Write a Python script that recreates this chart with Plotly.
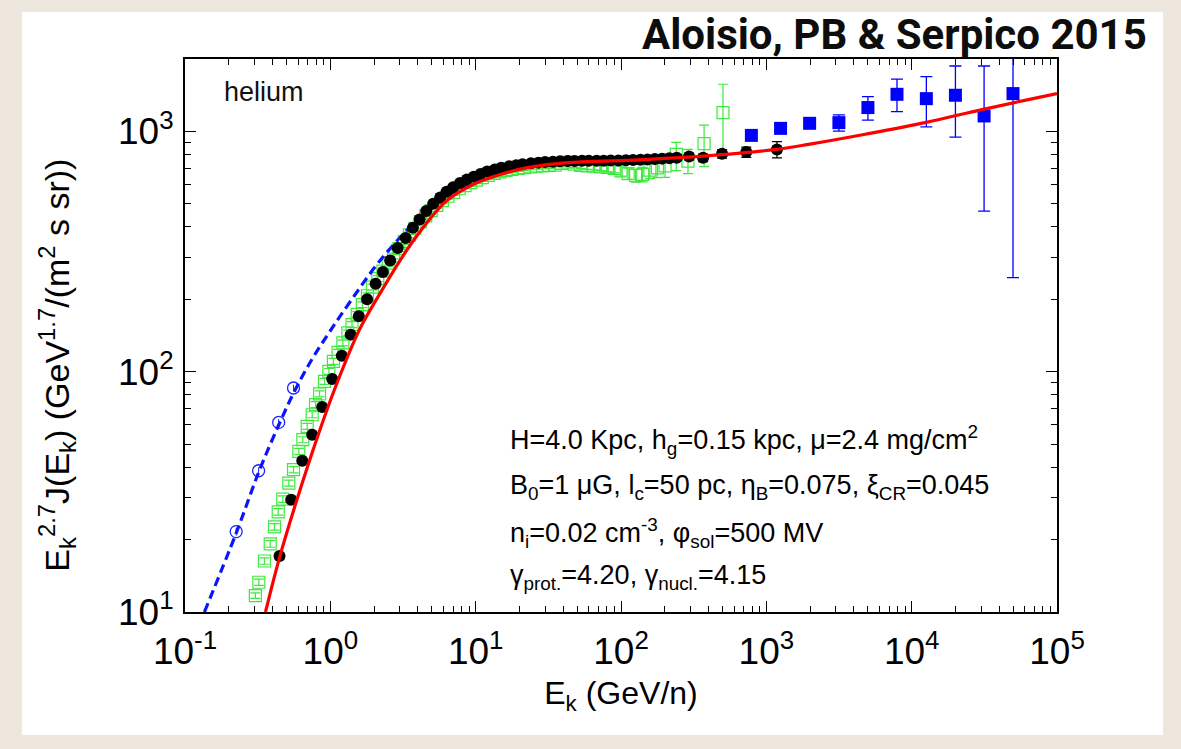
import plotly.graph_objects as go

# ---- model curves: E_k^2.7 J(E_k) for helium ----
model_E = [0.358, 0.449, 0.589, 0.820, 1.098, 1.59, 2.18, 3.70, 6.28, 9.57, 14.6, 20.0,
           32.3, 50.0, 100.0, 157.0, 365.0, 1170.0, 2000.0, 4900.0, 12600.0, 31000.0, 1.0e5]
model_J = [10.0, 17.0, 29.3, 54.0, 88.0, 150.0, 210.0, 349.0, 513.0, 601.0, 660.0, 695.0,
           729.0, 745.0, 755.0, 765.0, 789.0, 841.0, 885.0, 975.0, 1090.0, 1235.0, 1436.0]

modsol_E = [0.136, 0.225, 0.326, 0.447, 0.567, 0.75, 1.0, 1.43, 2.18, 3.70, 6.28, 10.6,
            20.0, 32.3, 50.0, 80.0]
modsol_J = [10.0, 21.3, 39.0, 61.0, 83.0, 113.0, 148.0, 203.0, 288.0, 410.0, 530.0, 631.0,
            710.0, 750.0, 755.0, 758.0]

# ---- AMS-02 style dense helium data (black dots) ----
ams_E = [0.447, 0.538, 0.641, 0.750, 0.879, 1.03, 1.20, 1.38, 1.57, 1.79, 2.05, 2.30, 2.58,
         2.91, 3.30, 3.70, 4.11, 4.57, 5.1, 5.7, 6.3, 7.0, 7.8, 8.7, 9.7, 10.8, 12.0, 13.5,
         15.0, 17.0, 19.0, 21.0, 24.0, 27.0, 30.0, 34.0, 38.0, 43.0, 48.0, 54.0, 60.0, 68.0,
         76.0, 85.0, 96.0, 108.0, 121.0, 136.0, 152.0, 171.0, 192.0, 215.0, 242.0, 294.0,
         367.0, 496.0, 728.0, 1183.0]
ams_J = [17.1, 29.3, 42.6, 54.7, 71.3, 93.3, 116.6, 142.6, 170.0, 200.0, 232.0, 260.0, 290.0,
         327.0, 360.0, 397.0, 430.0, 466.0, 500.0, 530.0, 560.0, 585.0, 610.0, 630.0, 648.0,
         665.0, 680.0, 693.0, 705.0, 715.0, 723.0, 730.0, 736.0, 741.0, 745.0, 748.0, 750.0,
         752.0, 753.0, 754.0, 754.0, 755.0, 755.0, 756.0, 757.0, 758.0, 760.0, 762.0, 764.0,
         767.0, 770.0, 773.0, 777.0, 785.0, 776.0, 807.0, 820.0, 841.0]
ams_err = [0.5, 0.6, 0.8, 1.0, 1.2, 1.5, 1.8, 2.0, 2.3, 2.6, 3.0, 3.3, 3.6, 4.0, 4.3, 4.7,
           5.0, 5.3, 5.6, 6.0, 6.3, 6.5, 6.8, 7.0, 7.2, 7.4, 7.6, 7.8, 8.0, 8.2, 8.4, 8.6,
           8.8, 9.0, 9.2, 9.4, 9.6, 9.8, 10.0, 10.5, 11.0, 11.5, 12.0, 12.5, 13.0, 13.5,
           14.0, 15.0, 16.0, 17.0, 18.0, 19.0, 21.0, 24.0, 28.0, 33.0, 40.0, 65.0]

# ---- PAMELA style helium data (green open squares) ----
pam_E = [0.305, 0.322, 0.352, 0.386, 0.413, 0.438, 0.471, 0.518, 0.558, 0.607, 0.647, 0.693,
         0.750, 0.791, 0.843, 0.912, 0.977, 1.05, 1.13, 1.22, 1.32, 1.41, 1.53, 1.66, 1.80,
         1.95, 2.12, 2.30, 2.50, 2.72, 2.96, 3.22, 3.50, 3.82, 4.16, 4.53, 4.94, 5.40, 5.90,
         6.45, 7.05, 7.70, 8.45, 9.25, 10.1, 11.1, 12.2, 13.4, 14.7, 16.2, 17.8, 19.6, 21.6,
         23.8, 26.2, 28.9, 31.9, 35.2, 38.9, 43.0, 47.6, 52.8, 58.6, 65.0, 72.3, 80.5, 89.8,
         100.0, 112.0, 126.0, 141.0, 158.0, 178.0, 201.0, 240.0, 289.0, 373.0, 503.0]
pam_J = [11.7, 13.3, 16.3, 19.2, 22.6, 26.1, 29.5, 34.4, 39.1, 46.6, 52.1, 59.2, 66.2, 72.9,
         80.9, 91.1, 100.3, 110.4, 120.3, 131.7, 145.0, 157.0, 173.0, 190.0, 207.0, 225.0,
         244.0, 262.0, 283.0, 303.0, 325.0, 348.0, 371.0, 395.0, 420.0, 445.0, 468.0, 492.0,
         515.0, 537.0, 557.0, 577.0, 595.0, 612.0, 627.0, 642.0, 656.0, 668.0, 678.0, 688.0,
         695.0, 701.0, 707.0, 712.0, 716.0, 719.0, 722.0, 724.0, 735.0, 745.0, 730.0, 722.0,
         718.0, 716.0, 712.0, 708.0, 702.0, 684.0, 667.0, 655.0, 662.0, 690.0, 705.0, 718.0,
         802.0, 752.0, 889.0, 1197.0]
pam_err_up = [0.3, 0.4, 0.5, 0.6, 0.7, 0.8, 0.9, 1.0, 1.2, 1.4, 1.5, 1.7, 1.9, 2.1, 2.3, 2.6,
              2.8, 3.1, 3.4, 3.7, 4.1, 4.4, 4.8, 5.3, 5.8, 6.3, 6.8, 7.3, 7.9, 8.5, 9.1, 9.7,
              10.4, 11.0, 11.7, 12.5, 13.1, 13.8, 14.4, 15.0, 15.6, 16.2, 16.7, 17.1, 17.6,
              18.0, 18.4, 18.7, 19.0, 19.3, 19.5, 19.6, 19.8, 20.0, 20.0, 20.1, 20.2, 20.3,
              21.0, 22.0, 22.0, 23.0, 24.0, 25.0, 26.0, 28.0, 30.0, 33.0, 36.0, 40.0, 46.0,
              54.0, 63.0, 74.0, 98.0, 89.0, 173.0, 373.0]
pam_err_dn = [0.3, 0.4, 0.5, 0.6, 0.7, 0.8, 0.9, 1.0, 1.2, 1.4, 1.5, 1.7, 1.9, 2.1, 2.3, 2.6,
              2.8, 3.1, 3.4, 3.7, 4.1, 4.4, 4.8, 5.3, 5.8, 6.3, 6.8, 7.3, 7.9, 8.5, 9.1, 9.7,
              10.4, 11.0, 11.7, 12.5, 13.1, 13.8, 14.4, 15.0, 15.6, 16.2, 16.7, 17.1, 17.6,
              18.0, 18.4, 18.7, 19.0, 19.3, 19.5, 19.6, 19.8, 20.0, 20.0, 20.1, 20.2, 20.3,
              21.0, 22.0, 22.0, 23.0, 24.0, 25.0, 26.0, 28.0, 30.0, 33.0, 36.0, 40.0, 46.0,
              54.0, 63.0, 74.0, 116.0, 85.0, 176.0, 408.0]

# ---- CREAM style high-energy helium data (blue filled squares) ----
crm_E = [789.0, 1253.0, 1986.0, 3158.0, 5000.0, 7925.0, 12620.0, 20000.0, 31500.0, 49800.0]
crm_J = [962.0, 1029.0, 1080.0, 1087.0, 1256.0, 1426.0, 1368.0, 1413.0, 1159.0, 1436.0]
crm_err_up = [25.0, 28.0, 30.0, 83.0, 140.0, 222.0, 322.0, 457.0, 711.0, 1000.0]
crm_err_dn = [25.0, 28.0, 30.0, 85.0, 142.0, 219.0, 325.0, 467.0, 693.0, 1190.0]

# ---- BESS style low-energy helium data (blue open circles) ----
bess_E = [0.225, 0.321, 0.441, 0.558]
bess_J = [21.6, 38.7, 61.5, 85.5]
bess_err = [0.8, 1.3, 2.0, 2.7]

# ---- axis tick labels ----
x_tickvals = [0.1, 1, 10, 100, 1000, 1e4, 1e5]
x_ticktext = ["10<sup>-1</sup>", "10<sup>0</sup>", "10<sup>1</sup>", "10<sup>2</sup>",
              "10<sup>3</sup>", "10<sup>4</sup>", "10<sup>5</sup>"]
y_tickvals = [10, 100, 1000]
y_ticktext = ["10<sup>1</sup>", "10<sup>2</sup>", "10<sup>3</sup>"]

FONT = "Liberation Sans, Arial, Helvetica, sans-serif"

fig = go.Figure()

fig.add_trace(go.Scatter(
    x=pam_E, y=pam_J, mode="markers",
    marker=dict(symbol="square-open", size=12, color="#3ee83e", line=dict(width=1.2)),
    error_y=dict(type="data", array=pam_err_up, arrayminus=pam_err_dn,
                 color="#3ee83e", thickness=1.2, width=5),
))
fig.add_trace(go.Scatter(
    x=bess_E, y=bess_J, mode="markers",
    marker=dict(symbol="circle-open", size=12, color="#2020ff", line=dict(width=1.3)),
    error_y=dict(type="data", array=bess_err, color="#2020ff", thickness=1, width=0),
))
fig.add_trace(go.Scatter(
    x=modsol_E, y=modsol_J, mode="lines", line_shape="spline",
    line=dict(color="#0a14ff", width=3.2, dash="9px,5px"),
))
fig.add_trace(go.Scatter(
    x=ams_E, y=ams_J, mode="markers",
    marker=dict(symbol="circle", size=12, color="black"),
    error_y=dict(type="data", array=ams_err, color="black", thickness=1.2, width=5),
))
fig.add_trace(go.Scatter(
    x=crm_E, y=crm_J, mode="markers",
    marker=dict(symbol="square", size=13, color="#0000ff"),
    error_y=dict(type="data", array=crm_err_up, arrayminus=crm_err_dn,
                 color="#0000ff", thickness=1.3, width=6),
))
fig.add_trace(go.Scatter(
    x=model_E, y=model_J, mode="lines", line_shape="spline",
    line=dict(color="#ff0000", width=3.2),
))

axis_common = dict(
    type="log", showgrid=False, zeroline=False, showline=True, linecolor="black",
    linewidth=2, mirror="allticks", ticks="inside", ticklen=11, tickwidth=1.2,
    tickcolor="black", tickmode="array",
    tickfont=dict(family=FONT, size=37, color="black"),
    minor=dict(ticks="inside", ticklen=6, tickwidth=1, tickcolor="black", dtick="D1",
               showgrid=False),
)

fig.update_xaxes(**axis_common, range=[-1, 5], tickvals=x_tickvals, ticktext=x_ticktext,
                 ticklabelstandoff=6,
                 title=dict(text="E<sub>k</sub> (GeV/n)",
                            font=dict(family=FONT, size=32, color="black"), standoff=10))
fig.update_yaxes(**axis_common, range=[1, 3.30103], tickvals=y_tickvals, ticktext=y_ticktext,
                 ticklabelstandoff=2)

params = [
    "H=4.0 Kpc, h<sub>g</sub>=0.15 kpc, μ=2.4 mg/cm<sup>2</sup>",
    "B<sub>0</sub>=1 μG, l<sub>c</sub>=50 pc, η<sub>B</sub>=0.075, ξ<sub>CR</sub>=0.045",
    "n<sub>i</sub>=0.02 cm<sup>-3</sup>, φ<sub>sol</sub>=500 MV",
    "γ<sub>prot.</sub>=4.20, γ<sub>nucl.</sub>=4.15",
]
param_y = [0.311, 0.226, 0.143, 0.063]

annotations = [
    dict(text="E<sub>k</sub><sup>2.7</sup>J(E<sub>k</sub>) (GeV<sup>1.7</sup>/(m<sup>2</sup> s sr))",
         xref="paper", yref="paper", x=-0.147, y=0.447, textangle=-90,
         xanchor="center", yanchor="middle", showarrow=False,
         font=dict(family=FONT, size=34, color="black")),
    dict(text="helium", xref="paper", yref="paper", x=0.043, y=0.94,
         xanchor="left", yanchor="middle", showarrow=False,
         font=dict(family=FONT, size=27, color="#111111")),
    dict(text="<b>Aloisio, PB &amp; Serpico 2015</b>", xref="paper", yref="paper",
         x=1.106, y=1.092, xanchor="right", yanchor="top", showarrow=False,
         font=dict(family="Liberation Sans Narrow, Roboto, sans-serif", size=42,
                   color="#0d0d0d")),
]
for txt, yy in zip(params, param_y):
    annotations.append(dict(text=txt, xref="paper", yref="paper", x=0.37, y=yy,
                            xanchor="left", yanchor="middle", showarrow=False,
                            font=dict(family=FONT, size=27, color="black")))

fig.update_layout(
    width=1181, height=749,
    margin=dict(l=185, r=124, t=59, b=137),
    paper_bgcolor="#ece6dd",
    plot_bgcolor="white",
    showlegend=False,
    annotations=annotations,
    shapes=[dict(type="rect", xref="paper", yref="paper", x0=-0.187, x1=1.1216,
                 y0=-0.2224, y1=1.085, fillcolor="white", line=dict(width=0),
                 layer="below")],
)

fig.write_html("out.html")
